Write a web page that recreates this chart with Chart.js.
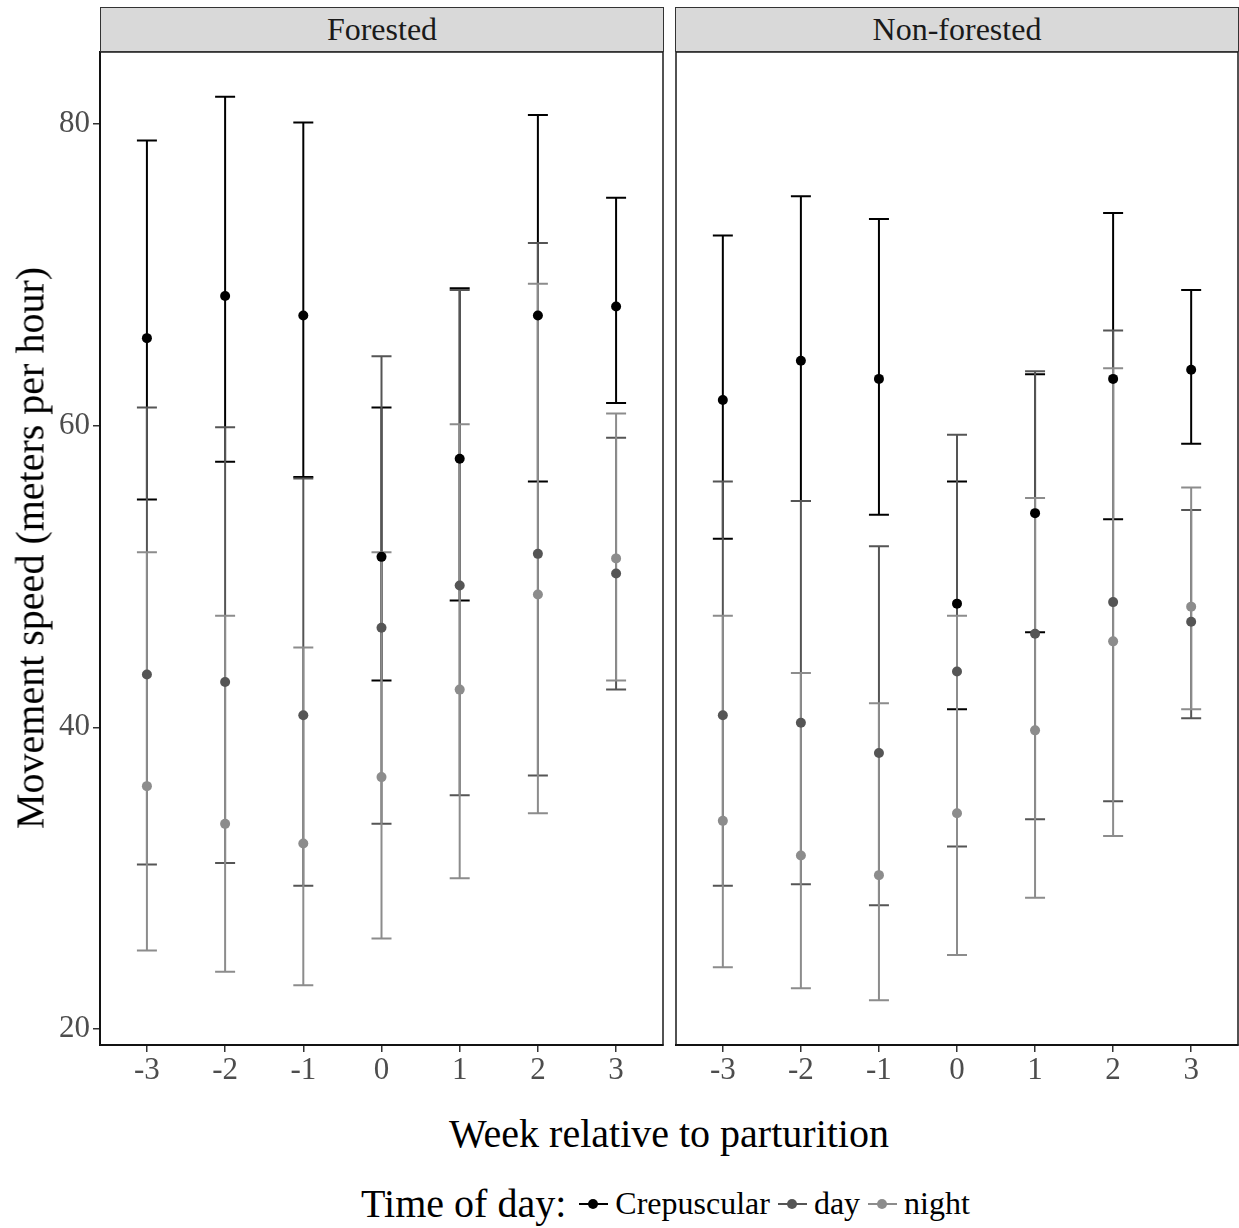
<!DOCTYPE html>
<html>
<head>
<meta charset="utf-8">
<script src="https://cdn.jsdelivr.net/npm/chart.js@4/dist/chart.umd.min.js"></script>
<style>
  body { margin: 0; background: #fff; width: 1239px; height: 1228px; position: relative; overflow: hidden;
         font-family: "Liberation Serif", "Times New Roman", serif; }
  canvas { position: absolute; top: 0; }
  .strip { position: absolute; top: 7px; height: 45px; box-sizing: border-box; border: 1px solid #333;
           background: #d9d9d9; color: #1a1a1a; font-size: 32px; text-align: center; line-height: 43px; }
  .title { position: absolute; color: #000; font-size: 40px; white-space: nowrap; }
  .legend { position: absolute; left: 0; width: 1339px; top: 1180px; text-align: center; white-space: nowrap; }
  .legend span { vertical-align: middle; }
  .legend .lab { font-size: 32px; margin-right: 8px; }
  .legend .head { font-size: 40px; margin-right: 13px; }
  .key { display: inline-block; position: relative; width: 29px; height: 20px; margin-right: 7px; }
  .key::before { content: ""; position: absolute; left: 0; right: 0; top: 9px; height: 2px; background: var(--c); }
  .key::after { content: ""; position: absolute; left: 9px; top: 5px; width: 10px; height: 10px; border-radius: 50%; background: var(--c); }
</style>
</head>
<body>
<canvas id="forested" width="664" height="1100" style="left:0"></canvas>
<canvas id="nonforested" width="564" height="1100" style="left:675px"></canvas>
<div class="strip" style="left:100px;width:564px">Forested</div>
<div class="strip" style="left:675px;width:564px">Non-forested</div>
<div class="title" style="left:30px;top:548px;transform:translate(-50%,-50%) rotate(-90deg)">Movement speed (meters per hour)</div>
<div class="title" style="left:669px;top:1133px;transform:translate(-50%,-50%)">Week relative to parturition</div>
<div class="legend">
  <span class="head">Time of day:</span><span class="key" style="--c:#000"></span><span class="lab">Crepuscular</span><span class="key" style="--c:#555"></span><span class="lab">day</span><span class="key" style="--c:#8c8c8c"></span><span class="lab">night</span>
</div>
<script>
// Weeks relative to parturition
const weeks = [-3, -2, -1, 0, 1, 2, 3];
const yTicks = [20, 40, 60, 80];

// Forested: estimate, lower and upper interval
const crepF = [65.8, 68.6, 67.3, 51.3, 57.8, 67.3, 67.9];
const crepFLo = [55.1, 57.6, 56.6, 43.1, 48.4, 56.3, 61.5];
const crepFHi = [78.9, 81.8, 80.1, 61.2, 69.1, 80.6, 75.1];
const dayF = [43.5, 43.0, 40.8, 46.6, 49.4, 51.5, 50.2];
const dayFLo = [30.9, 31.0, 29.5, 33.6, 35.5, 36.8, 42.5];
const dayFHi = [61.2, 59.9, 56.5, 64.6, 69.0, 72.1, 59.2];
const nightF = [36.1, 33.6, 32.3, 36.7, 42.5, 48.8, 51.2];
const nightFLo = [25.2, 23.8, 22.9, 26.0, 30.0, 34.3, 43.1];
const nightFHi = [51.6, 47.4, 45.3, 51.6, 60.1, 69.4, 60.8];

// Non-forested
const crepN = [61.7, 64.3, 63.1, 48.2, 54.2, 63.1, 63.7];
const crepNLo = [52.5, 55.0, 54.1, 41.2, 46.3, 53.8, 58.8];
const crepNHi = [72.6, 75.2, 73.7, 56.3, 63.4, 74.1, 69.0];
const dayN = [40.8, 40.3, 38.3, 43.7, 46.2, 48.3, 47.0];
const dayNLo = [29.5, 29.6, 28.2, 32.1, 33.9, 35.1, 40.6];
const dayNHi = [56.3, 55.0, 52.0, 59.4, 63.6, 66.3, 54.4];
const nightN = [33.8, 31.5, 30.2, 34.3, 39.8, 45.7, 48.0];
const nightNLo = [24.1, 22.7, 21.9, 24.9, 28.7, 32.8, 41.2];
const nightNHi = [47.4, 43.6, 41.6, 47.4, 55.2, 63.8, 55.9];

const colors = { Crepuscular: '#000000', day: '#555555', night: '#8c8c8c' };
const FONT = '"Liberation Serif", "Times New Roman", serif';

// Draw vertical error bars (all groups) before the points, then the panel border
const errorBars = {
    id: 'errorBars',
    beforeDatasetsDraw(chart) {
        const ctx = chart.ctx;
        const xs = chart.scales.x, ys = chart.scales.y;
        chart.data.datasets.forEach((ds) => {
            ctx.save();
            ctx.strokeStyle = ds.backgroundColor;
            ctx.lineWidth = 2;
            ds.data.forEach((p, i) => {
                const x = xs.getPixelForValue(p.x);
                const lo = ys.getPixelForValue(ds.errLo[i]);
                const hi = ys.getPixelForValue(ds.errHi[i]);
                ctx.beginPath();
                ctx.moveTo(x, lo); ctx.lineTo(x, hi);
                ctx.moveTo(x - 10, lo); ctx.lineTo(x + 10, lo);
                ctx.moveTo(x - 10, hi); ctx.lineTo(x + 10, hi);
                ctx.stroke();
            });
            ctx.restore();
        });
    },
    afterDraw(chart) {
        const a = chart.chartArea, ctx = chart.ctx;
        ctx.save();
        ctx.strokeStyle = '#1a1a1a';
        ctx.lineWidth = 1.5;
        ctx.strokeRect(a.left, a.top, a.right - a.left, a.bottom - a.top);
        ctx.restore();
    }
};

function makeSet(label, vals, lo, hi) {
    return {
        label: label,
        data: weeks.map((w, i) => ({ x: w, y: vals[i] })),
        errLo: lo,
        errHi: hi,
        backgroundColor: colors[label],
        borderColor: colors[label],
        borderWidth: 0,
        pointRadius: 5,
        pointHoverRadius: 5
    };
}

function makeChart(id, datasets, showY, pad) {
    const ctx = document.getElementById(id).getContext('2d');
    return new Chart(ctx, {
        type: 'scatter',
        data: { datasets: datasets },
        plugins: [errorBars],
        options: {
            responsive: false,
            animation: false,
            devicePixelRatio: 1,
            layout: { padding: pad, autoPadding: false },
            plugins: { legend: { display: false }, tooltip: { enabled: false } },
            scales: {
                x: {
                    type: 'linear',
                    min: -3.6,
                    max: 3.6,
                    afterBuildTicks: (s) => { s.ticks = weeks.map(v => ({ value: v })); },
                    afterFit: (s) => { s.height = 55; s.paddingLeft = 0; s.paddingRight = 0; },
                    ticks: { color: '#4d4d4d', font: { family: FONT, size: 31 }, padding: 0,
                             maxRotation: 0, autoSkip: false },
                    grid: { drawOnChartArea: false, drawTicks: true, tickLength: 7, color: '#333', lineWidth: 1.5 },
                    border: { display: true, color: '#000', width: 2 }
                },
                y: {
                    type: 'linear',
                    display: showY,
                    min: 18.94,
                    max: 84.77,
                    afterBuildTicks: (s) => { s.ticks = yTicks.map(v => ({ value: v })); },
                    afterFit: (s) => { s.width = showY ? 100 : 0; s.paddingTop = 0; s.paddingBottom = 0; },
                    ticks: { color: '#4d4d4d', font: { family: FONT, size: 31 }, padding: 3 },
                    grid: { drawOnChartArea: false, drawTicks: true, tickLength: 7, color: '#333', lineWidth: 1.5 },
                    border: { display: true, color: '#000', width: 2 }
                }
            }
        }
    });
}

makeChart('forested', [
    makeSet('Crepuscular', crepF, crepFLo, crepFHi),
    makeSet('day', dayF, dayFLo, dayFHi),
    makeSet('night', nightF, nightFLo, nightFHi)
], true, { top: 52, right: 1, left: 0, bottom: 0 });

makeChart('nonforested', [
    makeSet('Crepuscular', crepN, crepNLo, crepNHi),
    makeSet('day', dayN, dayNLo, dayNHi),
    makeSet('night', nightN, nightNLo, nightNHi)
], false, { top: 52, right: 1, left: 1, bottom: 0 });
</script>
</body>
</html>
